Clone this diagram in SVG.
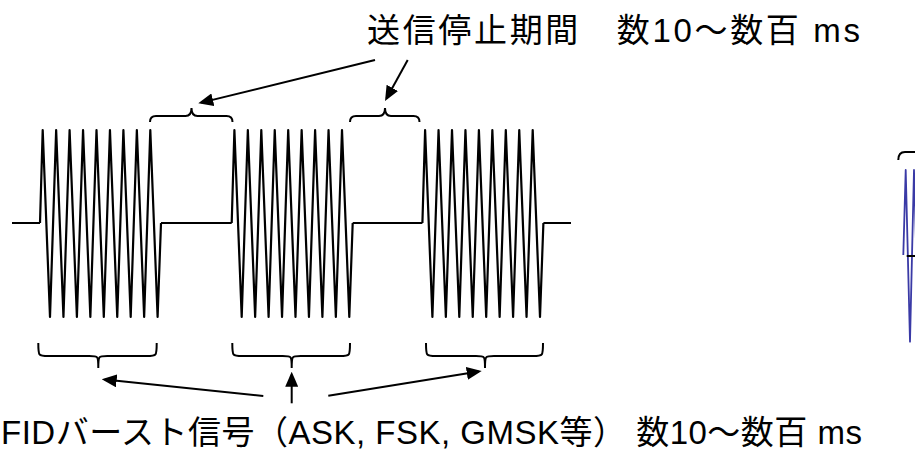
<svg xmlns="http://www.w3.org/2000/svg" width="915" height="461" viewBox="0 0 915 461">
<style>
.w{fill:none;stroke:#000;stroke-width:2.2;stroke-linejoin:round}
.br{fill:none;stroke:#000;stroke-width:2}
.ar{fill:none;stroke:#000;stroke-width:2}
.t{font-family:"Liberation Sans","Noto Sans CJK JP",sans-serif;font-size:33px;fill:#000}
</style>
<defs>
<marker id="ah" markerUnits="userSpaceOnUse" markerWidth="15" markerHeight="13" refX="12" refY="6.5" orient="auto">
<path d="M0,0 L15,6.5 L0,13 z" fill="#000"/>
</marker>
<path id="burst" d="M0,223 L2.7,130 L10,317 L16.15,130 L23.45,317 L29.6,130 L36.9,317 L43.05,130 L50.35,317 L56.5,130 L63.8,317 L69.95,130 L77.25,317 L83.4,130 L90.7,317 L96.85,130 L104.15,317 L110.3,130 L117.6,317 L121,223"/>
</defs>
<rect width="915" height="461" fill="#fff"/>
<g id="waveform">
<path class="w" d="M12,223 H40 M161,223 H231.7 M352.7,223 H422.4 M543.4,223 H571"/>
<use href="#burst" class="w" x="40"/>
<use href="#burst" class="w" x="231.7"/>
<use href="#burst" class="w" x="422.4"/>
</g>
<g id="fragment">
<path d="M903.3,255 L905.7,170 L910,341.7 L914,170 L916.5,260" fill="none" stroke="#3a3aa6" stroke-width="1.8" stroke-linejoin="round"/>
<path class="br" d="M906.7,256 H915 M898.3,160 Q898.3,152 905,152 H915"/>
</g>
<g id="gap-braces">
<path class="br" d="M150,122 Q150,116 156,116 H185.5 Q191.5,116 191.5,108 Q191.5,116 197.5,116 H226.5 Q232.5,116 232.5,122"/>
<path class="br" d="M350,122 Q350,116 356,116 H379 Q385,116 385,108 Q385,116 391,116 H413.5 Q419.5,116 419.5,122"/>
</g>
<g id="burst-braces">
<path class="br" d="M38.3,343 C38.3,356 38.3,356 48.3,356 H89.3 C98.3,356 98.3,356 98.3,368 C98.3,356 98.3,356 107.3,356 H146.7 C156.7,356 156.7,356 156.7,343"/>
<path class="br" d="M232.3,343 C232.3,356 232.3,356 242.3,356 H282.7 C291.7,356 291.7,356 291.7,368 C291.7,356 291.7,356 300.7,356 H340 C350,356 350,356 350,343"/>
<path class="br" d="M426,343 C426,356 426,356 436,356 H476 C485,356 485,356 485,368 C485,356 485,356 494,356 H533 C543,356 543,356 543,343"/>
</g>
<g id="connectors">
<line class="ar" x1="375" y1="60" x2="201.2" y2="102.6" marker-end="url(#ah)"/>
<line class="ar" x1="407.7" y1="60" x2="386.5" y2="98.4" marker-end="url(#ah)"/>
<line class="ar" x1="263.3" y1="396" x2="104.7" y2="379.6" marker-end="url(#ah)"/>
<line class="ar" x1="291.7" y1="403.3" x2="291.7" y2="374.7" marker-end="url(#ah)"/>
<line class="ar" x1="328.3" y1="395.7" x2="478.7" y2="371.5" marker-end="url(#ah)"/>
</g>
<g id="label-gap">
<text class="t" x="367" y="42" textLength="493" lengthAdjust="spacing">送信停止期間　数10～数百 ms</text>
</g>
<g id="label-burst">
<text class="t" x="1" y="444" textLength="861" lengthAdjust="spacing">FIDバースト信号（ASK, FSK, GMSK等）  数10～数百 ms</text>
</g>
</svg>
